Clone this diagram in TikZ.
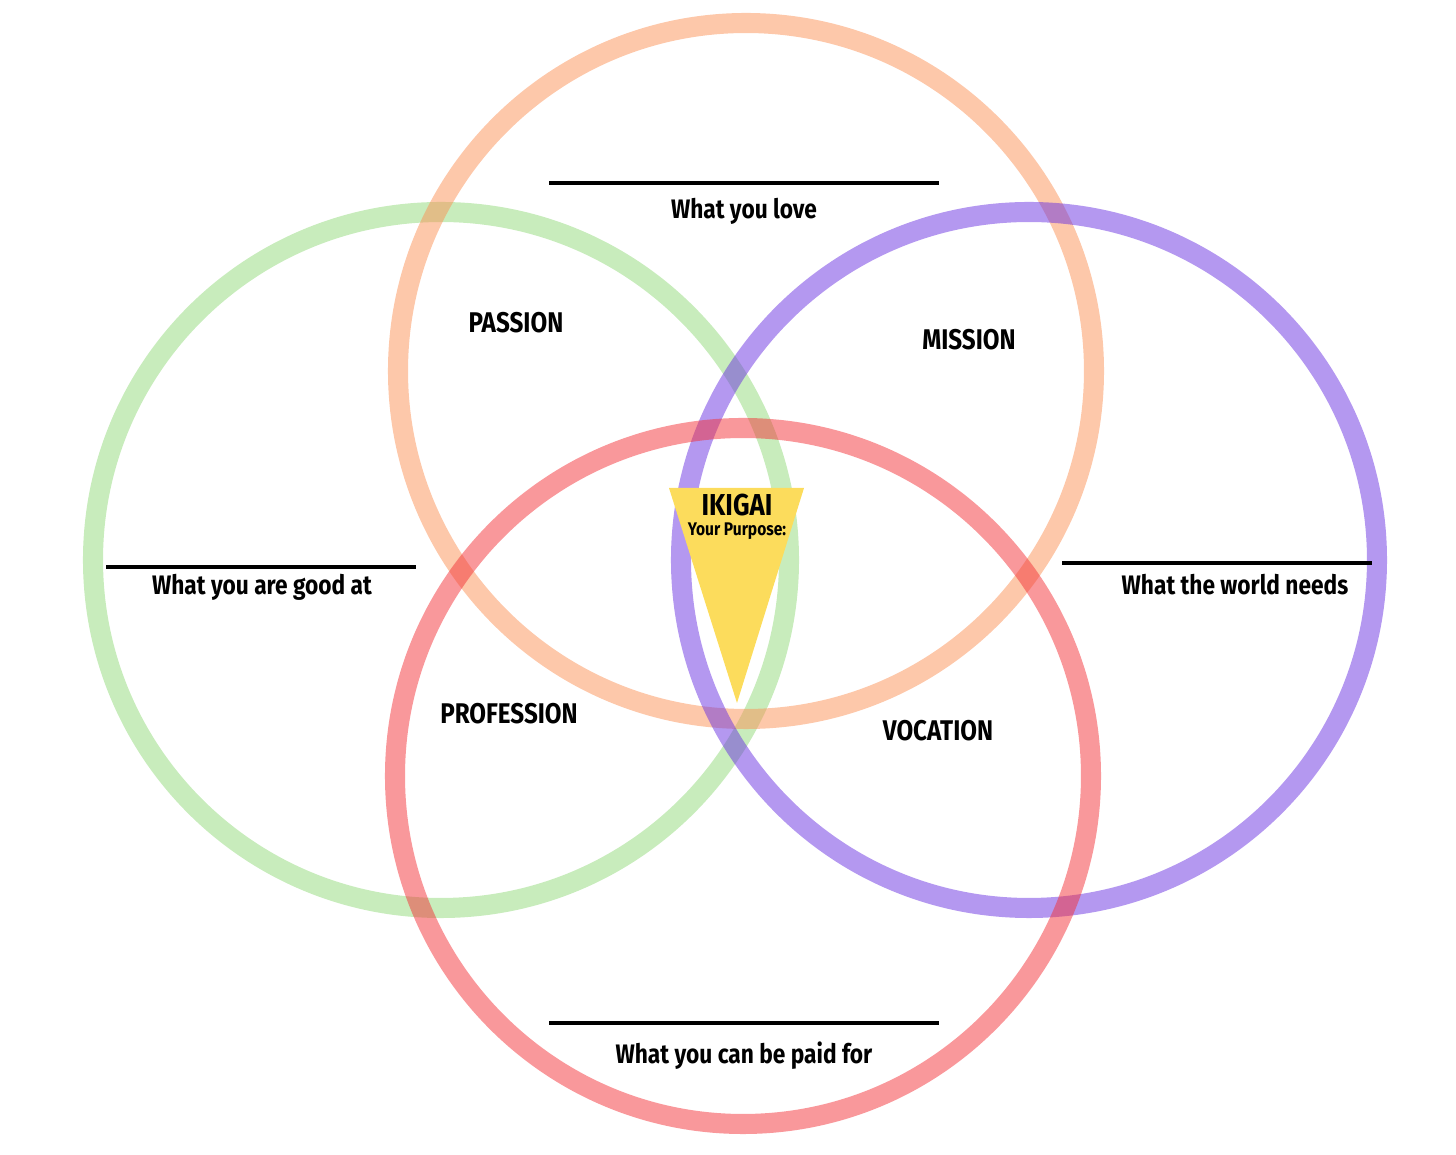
\documentclass[tikz,border=0pt]{standalone}
\usepackage{fontspec}
\setmainfont{Fira Sans}[FakeStretch=0.85]
\usetikzlibrary{positioning}

\definecolor{loveorange}{RGB}{251,145,85}
\definecolor{goodgreen}{RGB}{145,217,121}
\definecolor{worldpurple}{RGB}{105,49,225}
\definecolor{paidred}{RGB}{243,49,55}
\definecolor{ikigaiyellow}{RGB}{252,220,92}

\tikzset{
  ring/.style={line width=5.7pt, draw opacity=0.5},
  blankline/.style={line width=1.1pt, black},
  answer/.style={font=\bfseries\fontsize{7.6}{9}\selectfont, inner sep=0pt},
  overlap/.style={font=\bfseries\fontsize{8.1}{9}\selectfont, inner sep=0pt},
}

\begin{document}
\begin{tikzpicture}[x=0.01cm, y=-0.01cm]
\useasboundingbox (0,0) rectangle (1456,1155);

% the four rings
\draw[ring, draw=goodgreen]   (441,560) circle[radius=348];
\draw[ring, draw=loveorange]  (746,371) circle[radius=348];
\draw[ring, draw=worldpurple] (1029,560) circle[radius=348];
\draw[ring, draw=paidred]     (743,776) circle[radius=348];

% centre
\fill[ikigaiyellow] (669,488) -- (804,488) -- (737,703) -- cycle;
\node[font=\bfseries\fontsize{8.6}{10}\selectfont, inner sep=0pt] (ikigai) at (737,505) {IKIGAI};
\node[font=\bfseries\fontsize{5.2}{6}\selectfont, inner sep=0pt, below=1.5pt of ikigai] (purpose) {Your Purpose:};

% lines to write on
\draw[blankline] (549,183) -- (939,183);
\draw[blankline] (106,567) -- (416,567);
\draw[blankline] (1062,563) -- (1372,563);
\draw[blankline] (549,1023) -- (939,1023);

\node[answer] (love)  at (744,211)  {What you love};
\node[answer] (good)  at (262,587)  {What you are good at};
\node[answer] (world) at (1235,585) {What the world needs};
\node[answer] (paid)  at (744,1056) {What you can be paid for};

\node[overlap] (passion)    at (516,323) {PASSION};
\node[overlap] (mission)    at (969,340) {MISSION};
\node[overlap] (profession) at (509,714) {PROFESSION};
\node[overlap] (vocation)   at (938,731) {VOCATION};

\end{tikzpicture}
\end{document}
